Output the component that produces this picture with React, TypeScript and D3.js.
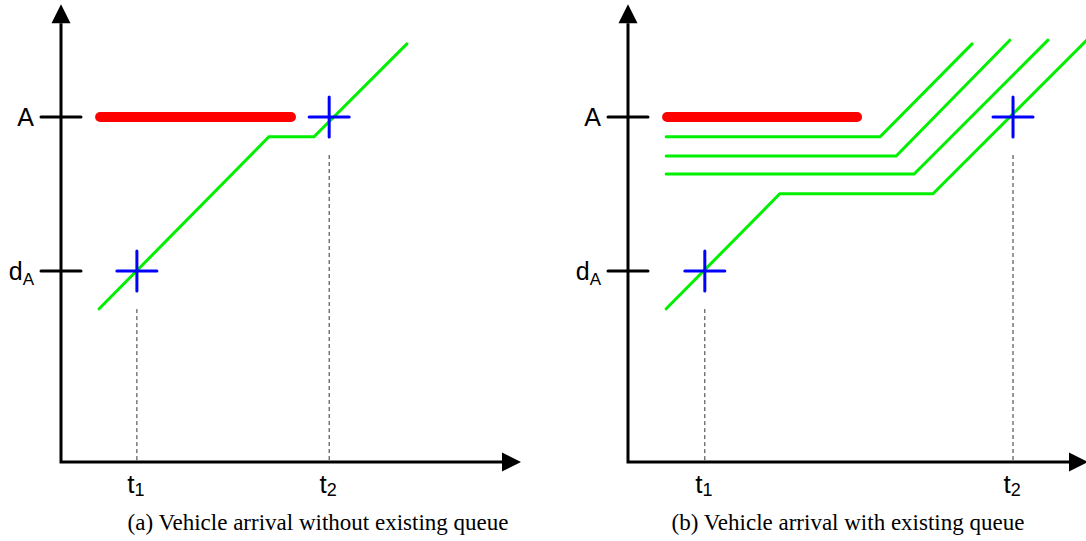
import React from 'react';
import * as d3 from 'd3';

// units: time on x, distance on y (0..100 per panel)
const yTickNames = ['A', 'd'];
const yTickSubs = ['', 'A'];
const yTickValues = [75, 41.5];
const xTickSubs = ['1', '2'];

const tA = [16.5, 58.3];
const tB = [16.7, 83.7];

const redA: [number, number][] = [[8.5, 75], [50, 75]];
const redB: [number, number][] = [[8.5, 75], [49.8, 75]];

const greenA: [number, number][][] = [
  [[8.3, 33.3], [45.2, 70.7], [55, 70.7], [75.2, 90.9]],
];
const greenB: [number, number][][] = [
  [[8.3, 70.7], [54.8, 70.7], [74.8, 90.9]],
  [[8.3, 66.5], [58.3, 66.5], [83, 91.7]],
  [[8.3, 62.6], [62.2, 62.6], [91.3, 91.7]],
  [[8.3, 33.3], [33, 58.3], [66.3, 58.3], [100.4, 92.4]],
];

const captions = [
  '(a) Vehicle arrival without existing queue',
  '(b) Vehicle arrival with existing queue',
];

const W = 1086, H = 541;
const originY = 462;
const x = d3.scaleLinear().domain([0, 100]).range([0, 460]);
const y = d3.scaleLinear().domain([0, 100]).range([originY, originY - 460]);
const line = d3.line<[number, number]>().x(d => x(d[0])).y(d => y(d[1]));

const sans = '"Liberation Sans", Arial, sans-serif';
const serif = '"Liberation Serif", "Times New Roman", serif';

function Panel({ ox, t, red, greens, caption, cx }: any) {
  const tipY = y(99.5);
  const tipX = x(100);
  const al = 19, aw = 9.5;
  const crosses = [[t[0], yTickValues[1]], [t[1], yTickValues[0]]];
  return (
    <g transform={`translate(${ox},0)`}>
      {/* axes */}
      <path d={`M0,${tipY + al}V${originY}H${tipX - al}`} fill="none" stroke="#000" strokeWidth={3} strokeLinejoin="miter" />
      <path d={`M0,${tipY}L${-aw},${tipY + al}L${aw},${tipY + al}Z`} fill="#000" />
      <path d={`M${tipX},${originY}L${tipX - al},${originY - aw}L${tipX - al},${originY + aw}Z`} fill="#000" />
      {yTickValues.map((v, i) => (
        <g key={i}>
          <line x1={-20} x2={20} y1={y(v)} y2={y(v)} stroke="#000" strokeWidth={3} strokeLinecap="round" />
          <text x={-27} y={y(v) + 9} textAnchor="end" fontFamily={sans} fontSize={25}>
            {yTickNames[i]}
            {yTickSubs[i] && <tspan dy={5} fontSize={17}>{yTickSubs[i]}</tspan>}
          </text>
        </g>
      ))}
      {/* dashed guides */}
      {crosses.map(([cxv, cyv], i) => (
        <line key={i} x1={x(cxv)} x2={x(cxv)} y1={y(cyv) + 38} y2={originY} stroke="#333" strokeWidth={1} strokeDasharray="4,3" />
      ))}
      {t.map((v: number, i: number) => (
        <text key={i} x={x(v) - 1} y={493} textAnchor="middle" fontFamily={sans} fontSize={26}>
          t<tspan dy={3} fontSize={18}>{xTickSubs[i]}</tspan>
        </text>
      ))}
      <path d={line(red) || ''} fill="none" stroke="#ff0000" strokeWidth={10} strokeLinecap="round" />
      {greens.map((g: [number, number][], i: number) => (
        <path key={i} d={line(g) || ''} fill="none" stroke="#00f000" strokeWidth={3} strokeLinecap="round" />
      ))}
      {crosses.map(([cxv, cyv], i) => (
        <g key={i} stroke="#0000ff" strokeWidth={3} strokeLinecap="round">
          <line x1={x(cxv) - 20} x2={x(cxv) + 20} y1={y(cyv)} y2={y(cyv)} />
          <line x1={x(cxv)} x2={x(cxv)} y1={y(cyv) - 20} y2={y(cyv) + 20} />
        </g>
      ))}
      <text x={cx} y={530} textAnchor="middle" fontFamily={serif} fontSize={23}>{caption}</text>
    </g>
  );
}

export default function App() {
  return (
    <svg width={W} height={H} style={{ position: 'absolute', left: 0, top: 0, background: '#fff' }}>
      <rect width={W} height={H} fill="#fff" />
      <Panel ox={61} t={tA} red={redA} greens={greenA} caption={captions[0]} cx={318 - 61} />
      <Panel ox={628} t={tB} red={redB} greens={greenB} caption={captions[1]} cx={848 - 628} />
    </svg>
  );
}
